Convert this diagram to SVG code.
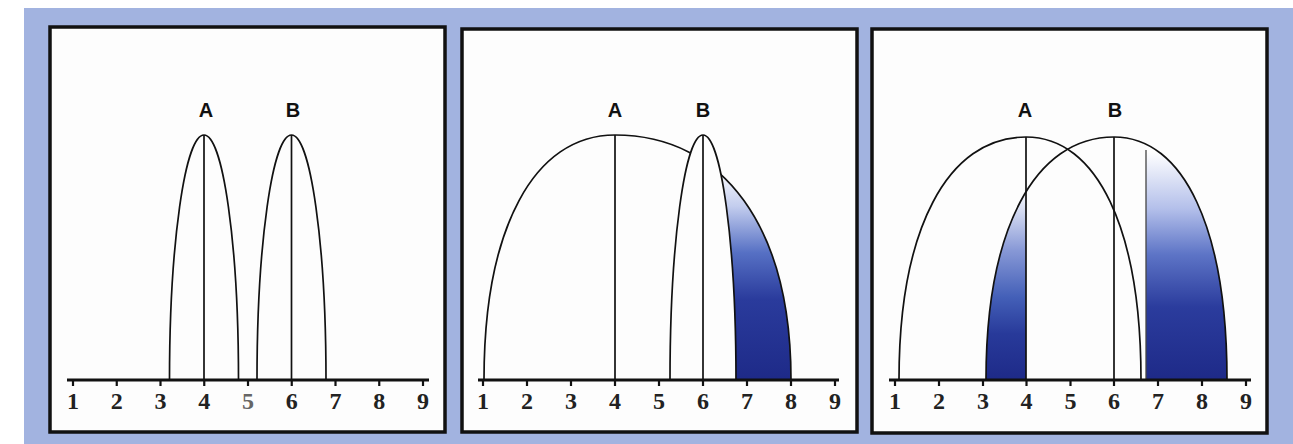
<svg xmlns="http://www.w3.org/2000/svg" width="1293" height="444" viewBox="0 0 1293 444">
<style>
.frame{fill:#fdfdfd;stroke:#111;stroke-width:3.5}
.curve{fill:none;stroke:#111;stroke-width:1.7}
.vline{stroke:#111;stroke-width:1.7}
.axis{stroke:#111;stroke-width:3}
.tick{stroke:#111;stroke-width:2.2}
.lbl{font-family:"Liberation Sans",Arial,sans-serif;font-weight:bold;font-size:20px;fill:#111;text-anchor:middle}
.num{font-family:"Liberation Serif","Times New Roman",serif;font-weight:bold;font-size:24px;fill:#222;text-anchor:middle}
</style>
<defs>
<linearGradient id="g2" gradientUnits="userSpaceOnUse" x1="0" y1="168" x2="0" y2="380">
<stop offset="0" stop-color="#ffffff"/><stop offset="0.18" stop-color="#c3cdee"/><stop offset="0.4" stop-color="#5670c4"/><stop offset="0.62" stop-color="#2a3b9c"/><stop offset="1" stop-color="#1e2a88"/>
</linearGradient>
<linearGradient id="g3a" gradientUnits="userSpaceOnUse" x1="0" y1="195" x2="0" y2="380">
<stop offset="0" stop-color="#f4f6fc"/><stop offset="0.3" stop-color="#8798d6"/><stop offset="0.55" stop-color="#4460b8"/><stop offset="0.75" stop-color="#283a9a"/><stop offset="1" stop-color="#1e2a88"/>
</linearGradient>
<linearGradient id="g3b" gradientUnits="userSpaceOnUse" x1="0" y1="152" x2="0" y2="380">
<stop offset="0" stop-color="#ffffff"/><stop offset="0.25" stop-color="#b3bfea"/><stop offset="0.45" stop-color="#5d74c6"/><stop offset="0.68" stop-color="#2b3c9d"/><stop offset="1" stop-color="#1e2a88"/>
</linearGradient>
<clipPath id="clipA2"><path d="M484 380 C484 228.1 533.8 135 615 135 C724.1 135 791 228.1 791 380 Z"/></clipPath>
<clipPath id="clipB3"><path d="M986 380 C986 229.3 1034.6 137 1114 137 C1184.1 137 1227 229.3 1227 380 Z"/></clipPath>
</defs>
<rect x="24" y="8" width="1269" height="436" fill="#a2b3e0"/>

<g id="panel1">
<rect class="frame" x="50" y="27" width="395" height="405"/>
<path class="curve" d="M169.5 380 A34.5 245 0 0 1 238.5 380"/>
<path class="curve" d="M257 380 A34.5 245 0 0 1 326 380"/>
<line class="vline" x1="204" y1="135" x2="204" y2="380"/>
<line class="vline" x1="291.5" y1="135" x2="291.5" y2="380"/>
<text class="lbl" x="206" y="117">A</text>
<text class="lbl" x="293" y="117">B</text>
<line class="axis" x1="67" y1="380" x2="429" y2="380"/>
<g class="tick">
<line x1="73" y1="380" x2="73" y2="386"/><line x1="116.75" y1="380" x2="116.75" y2="386"/><line x1="160.5" y1="380" x2="160.5" y2="386"/><line x1="204.25" y1="380" x2="204.25" y2="386"/><line x1="248" y1="380" x2="248" y2="386"/><line x1="291.75" y1="380" x2="291.75" y2="386"/><line x1="335.5" y1="380" x2="335.5" y2="386"/><line x1="379.25" y1="380" x2="379.25" y2="386"/><line x1="423" y1="380" x2="423" y2="386"/>
</g>
<text class="num" x="73" y="409">1</text><text class="num" x="116.75" y="409">2</text><text class="num" x="160.5" y="409">3</text><text class="num" x="204.25" y="409">4</text><text class="num" x="248" y="409" style="fill:#666">5</text><text class="num" x="291.75" y="409">6</text><text class="num" x="335.5" y="409">7</text><text class="num" x="379.25" y="409">8</text><text class="num" x="423" y="409">9</text>
</g>

<g id="panel2">
<rect class="frame" x="462" y="29" width="395" height="403"/>
<path d="M484 380 C484 228.1 533.8 135 615 135 C724.1 135 791 228.1 791 380 Z" fill="#fdfdfd"/>
<rect x="700" y="130" width="95" height="250" fill="url(#g2)" clip-path="url(#clipA2)"/>
<path class="curve" d="M484 380 C484 228.1 533.8 135 615 135 C724.1 135 791 228.1 791 380"/>
<path d="M670 380 A33 245 0 0 1 736 380 Z" fill="#fdfdfd"/>
<path class="curve" d="M670 380 A33 245 0 0 1 736 380"/>
<line class="vline" x1="615" y1="135" x2="615" y2="380"/>
<line class="vline" x1="703" y1="135" x2="703" y2="380"/>
<text class="lbl" x="615" y="117">A</text>
<text class="lbl" x="703" y="117">B</text>
<line class="axis" x1="478" y1="380" x2="839" y2="380"/>
<g class="tick">
<line x1="483" y1="380" x2="483" y2="386"/><line x1="527" y1="380" x2="527" y2="386"/><line x1="571" y1="380" x2="571" y2="386"/><line x1="615" y1="380" x2="615" y2="386"/><line x1="659" y1="380" x2="659" y2="386"/><line x1="703" y1="380" x2="703" y2="386"/><line x1="747" y1="380" x2="747" y2="386"/><line x1="791" y1="380" x2="791" y2="386"/><line x1="835" y1="380" x2="835" y2="386"/>
</g>
<text class="num" x="483" y="409">1</text><text class="num" x="527" y="409">2</text><text class="num" x="571" y="409">3</text><text class="num" x="615" y="409">4</text><text class="num" x="659" y="409">5</text><text class="num" x="703" y="409">6</text><text class="num" x="747" y="409">7</text><text class="num" x="791" y="409">8</text><text class="num" x="835" y="409">9</text>
</g>

<g id="panel3">
<rect class="frame" x="872" y="29" width="395" height="404"/>
<rect x="984" y="130" width="42" height="250" fill="url(#g3a)" clip-path="url(#clipB3)"/>
<rect x="1146" y="130" width="85" height="250" fill="url(#g3b)" clip-path="url(#clipB3)"/>
<path class="curve" d="M899 380 C899 229.3 947.3 137 1026 137 C1097.3 137 1141 229.3 1141 380"/>
<path class="curve" d="M986 380 C986 229.3 1034.6 137 1114 137 C1184.1 137 1227 229.3 1227 380"/>
<line class="vline" x1="1026" y1="137" x2="1026" y2="380"/>
<line class="vline" x1="1114" y1="137" x2="1114" y2="380"/>
<line x1="1146" y1="150" x2="1146" y2="380" stroke="#444" stroke-width="1.3"/>
<text class="lbl" x="1025" y="117">A</text>
<text class="lbl" x="1115" y="117">B</text>
<line class="axis" x1="889" y1="380" x2="1251" y2="380"/>
<g class="tick">
<line x1="895" y1="380" x2="895" y2="386"/><line x1="939" y1="380" x2="939" y2="386"/><line x1="983" y1="380" x2="983" y2="386"/><line x1="1026.5" y1="380" x2="1026.5" y2="386"/><line x1="1070.5" y1="380" x2="1070.5" y2="386"/><line x1="1114" y1="380" x2="1114" y2="386"/><line x1="1158" y1="380" x2="1158" y2="386"/><line x1="1202" y1="380" x2="1202" y2="386"/><line x1="1246" y1="380" x2="1246" y2="386"/>
</g>
<text class="num" x="895" y="409">1</text><text class="num" x="939" y="409">2</text><text class="num" x="983" y="409">3</text><text class="num" x="1026.5" y="409">4</text><text class="num" x="1070.5" y="409">5</text><text class="num" x="1114" y="409">6</text><text class="num" x="1158" y="409">7</text><text class="num" x="1202" y="409">8</text><text class="num" x="1246" y="409">9</text>
</g>
</svg>
